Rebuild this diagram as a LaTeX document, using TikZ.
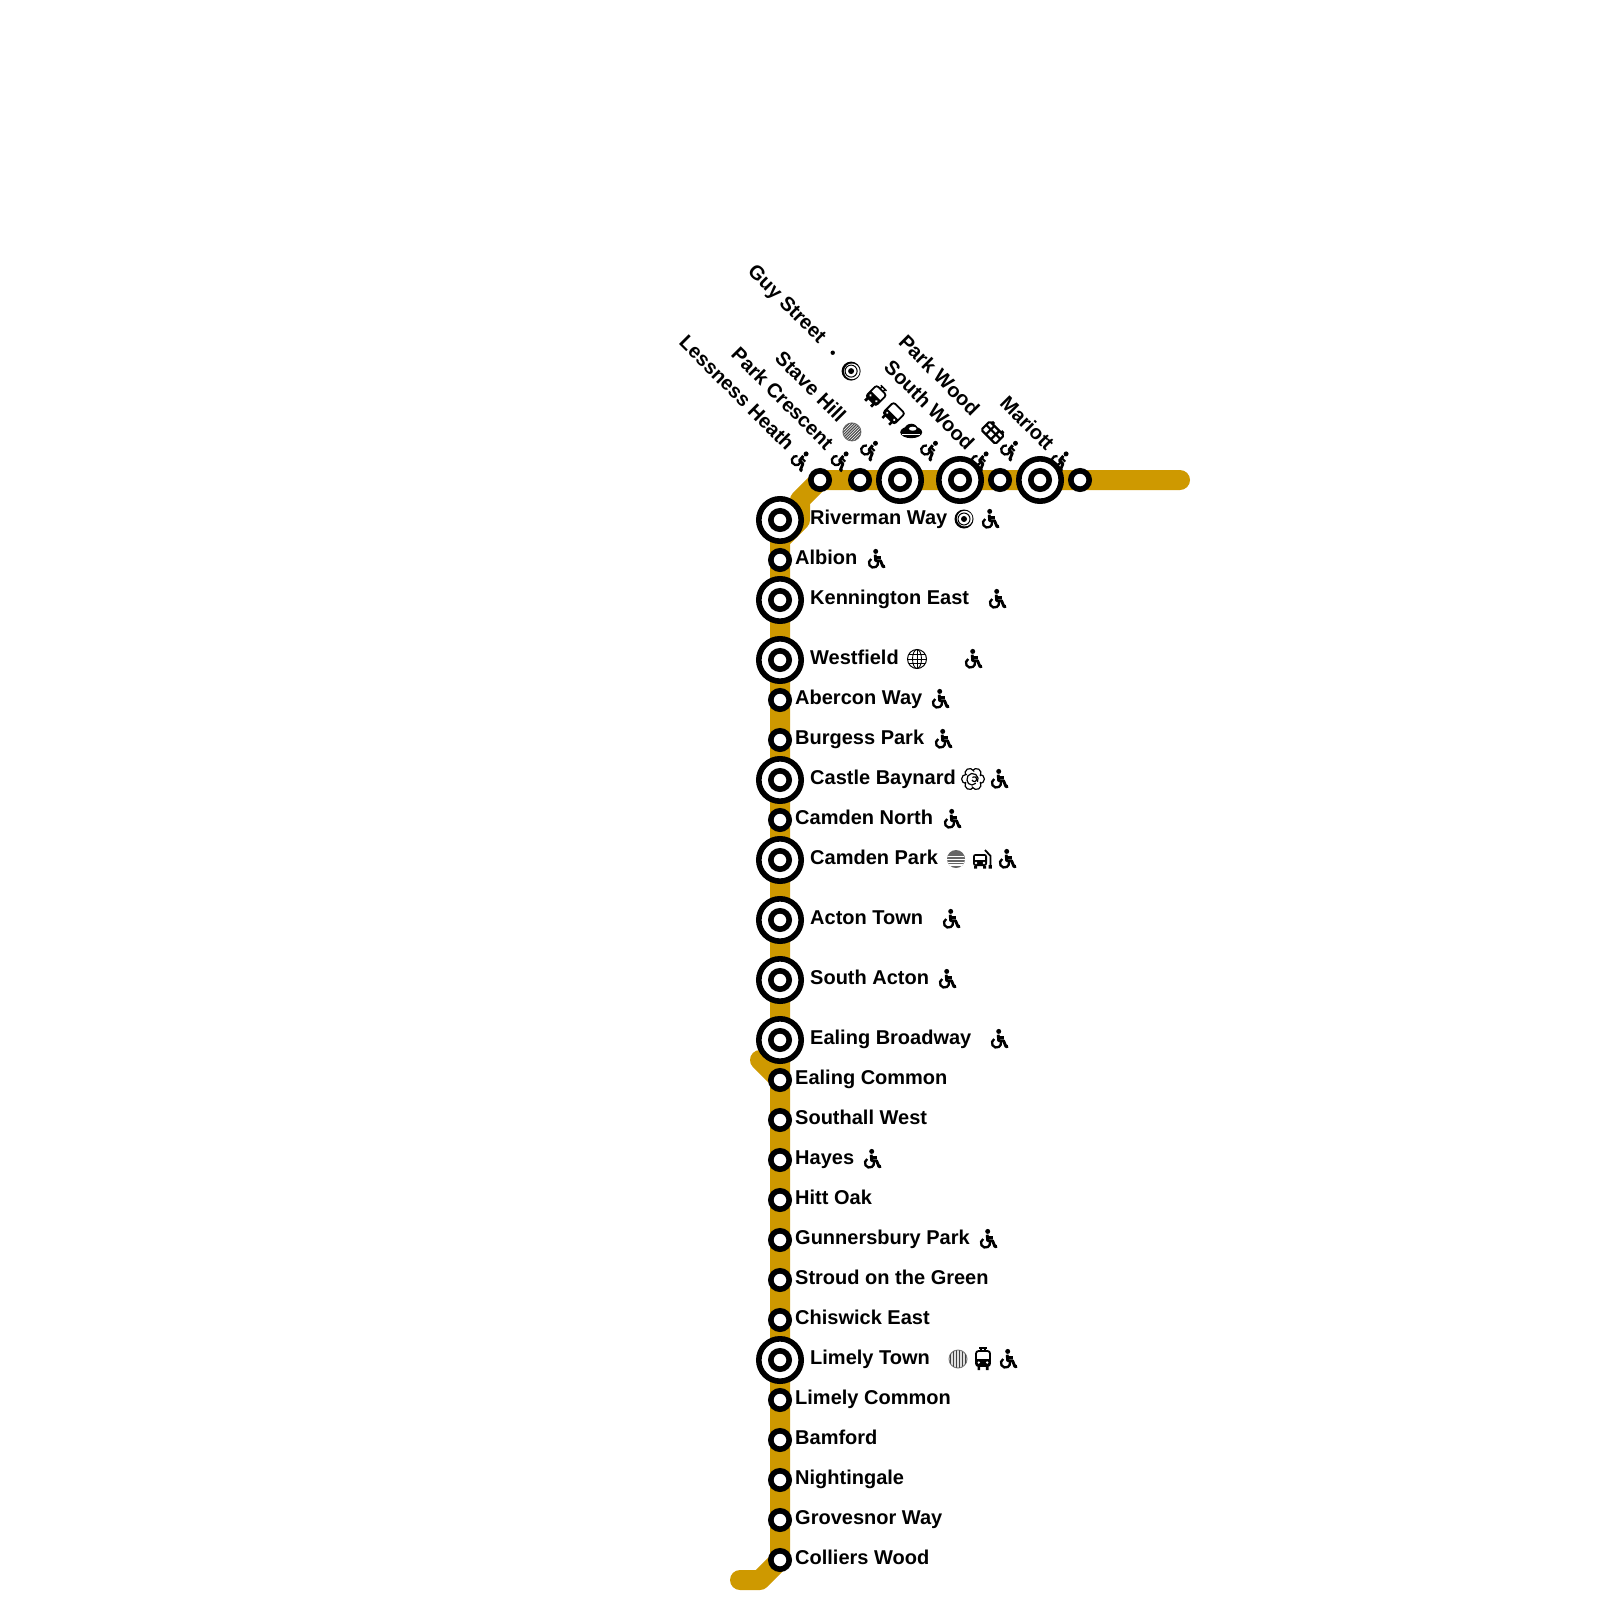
\documentclass[tikz,border=0pt]{standalone}
\usepackage{fontspec}
\setmainfont{Liberation Sans}
\usetikzlibrary{backgrounds}
\definecolor{linegold}{HTML}{CE9900}
\tikzset{
  smallstop/.style={circle, draw=black, fill=white, line width=5.6pt, inner sep=0pt, minimum size=18.4pt},
  bigstop/.style={circle, draw=black, fill=white, line width=5.6pt, inner sep=0pt, minimum size=42.4pt,
    path picture={\draw[line width=5.6pt] (path picture bounding box.center) circle (9.2pt);}},
  stoplabel/.style={font=\bfseries\fontsize{20}{24}\selectfont, inner sep=0pt, anchor=base west},
  toplabel/.style={font=\bfseries\fontsize{20}{24}\selectfont, inner sep=0pt, anchor=base east},
  metroline/.style={draw=linegold, line width=20pt, line cap=round, line join=round},
  wheelchair/.pic={
    \fill (-0.3,-8.6) circle (2.5pt);
    \draw[line width=2.9pt, line join=round] (-0.8,-5.3) -- (-0.3,0.7) -- (4.5,0.7) -- (7,6.7) -- (9,6.2);
    \draw[line width=2.2pt] (-0.8,-2.6) -- (4.5,-2.6);
    \draw[line width=2.3pt] (-4.8,-1) arc[start angle=120, end angle=375, radius=4.6pt];
  },
  target/.pic={
    \fill circle (9.5pt);
    \fill[white] (0.7,-0.4) circle (7.8pt);
    \draw[line width=1pt] circle (6pt);
    \fill circle (3pt);
  },
  globe/.pic={
    \draw[line width=1pt] circle (9.5pt);
    \draw[line width=0.9pt] (0,0) ellipse (4.5pt and 9.5pt);
    \draw[line width=0.9pt] (0,-9.5) -- (0,9.5) (-9.5,0) -- (9.5,0) (-8.3,-4.5) -- (8.3,-4.5) (-8.3,4.5) -- (8.3,4.5);
  },
  flower/.pic={
    \foreach \a in {0,60,...,300} {
      \draw[line width=1.2pt, fill=white, rotate=\a] (6.8,0) circle (4.6pt);
    }
    \fill[white] circle (7.5pt);
    \draw[line width=1.2pt] (-1,1) arc[start angle=200, end angle=500, radius=2.4pt];
    \draw[line width=1.2pt] (-6,1) arc[start angle=190, end angle=-30, radius=5.6pt];
    \draw[line width=1.2pt] (-6,1) arc[start angle=180, end angle=320, radius=5pt];
  },
  finehatch/.pic={
    \draw[line width=1pt, draw=gray, fill=white] circle (9pt);
    \begin{scope}
      \clip circle (9pt);
      \foreach \k in {-8,-6,...,8} {
        \draw[line width=1.1pt, draw=black!70] (\k,-9) -- (\k,9);
      }
    \end{scope}
  },
  vhatch/.pic={
    \draw[line width=1pt, draw=gray, fill=black!12] circle (9pt);
    \begin{scope}
      \clip circle (9pt);
      \foreach \k in {-7.5,-4.5,...,7.5} {
        \draw[line width=1pt, draw=black!75] (\k,-9) -- (\k,9);
      }
    \end{scope}
  },
  hhatch/.pic={
    \fill[black!60] circle (9pt);
    \begin{scope}
      \clip circle (9pt);
      \foreach \k in {-2.5,0.5,3.5,6} {
        \draw[line width=1.1pt, draw=white] (-9,\k) -- (9,\k);
      }
    \end{scope}
  },
  trambus/.pic={
    \draw[line width=1.4pt] (-4,-11) -- (4,-11) (-2,-11) -- (-2,-8) (2,-11) -- (2,-8);
    \draw[line width=1.8pt, fill=white, rounded corners=2.5pt] (-7,-8) rectangle (7,7);
    \fill (-7,0) rectangle (7,7);
    \fill (-5.5,7) rectangle (-2.8,11) (2.8,7) rectangle (5.5,11);
    \fill[white] (-4.2,3.5) circle (1.3pt) (4.2,3.5) circle (1.3pt);
  },
  railcar/.pic={
    \draw[line width=1.8pt, fill=white, rounded corners=2.5pt] (-8,-8) rectangle (8,7);
    \fill (-8,1) rectangle (8,7);
    \fill (-6,7) rectangle (-3.5,11) (3.5,7) rectangle (6,11);
    \fill[white] (-5,4) circle (1.3pt) (5,4) circle (1.3pt);
  },
  sidetram/.pic={
    \draw[line width=2.2pt, fill=white, rounded corners=1.5pt] (-10,-6) rectangle (10,6);
    \draw[line width=2.2pt] (-10,-1) -- (10,-1) (-3.5,-6) -- (-3.5,6) (3.5,-6) -- (3.5,6);
    \fill (-8,-8.5) rectangle (-5,-6) (5,-8.5) rectangle (8,-6);
  },
  saucer/.pic={
    \begin{scope}[rotate=45]
      \fill (0,1) ellipse (11pt and 6pt);
      \fill (0,-2) ellipse (6.5pt and 5.5pt);
      \fill[white] (1.5,-2.5) ellipse (3.8pt and 2pt);
      \draw[white, line width=0.8pt] (-9,3.5) -- (9,3.5);
    \end{scope}
  },
  trolleybus/.pic={
    \draw[line width=1.8pt] (8.5,8) -- (8.5,-3) -- (3,-9);
    \fill[rounded corners=2.5pt] (-9,-5) rectangle (5,7);
    \fill[white] (-7,-3) rectangle (3,0.5);
    \fill (-8,7) rectangle (-5,9.5) (1,7) rectangle (4,9.5) (6.5,6) rectangle (9.8,9.5);
    \fill[white] (-6,4) circle (1.3pt) (2,4) circle (1.3pt);
  }
}
\begin{document}
\begin{tikzpicture}[x=1pt, y=-1pt]
    \useasboundingbox (0,0) rectangle (1600,1600);
    % stops along the top
    \node[smallstop] (lessness) at (820,480) {};
    \node[smallstop] (parkcrescent) at (860,480) {};
    \node[bigstop] (stavehill) at (900,480) {};
    \node[bigstop] (guystreet) at (960,480) {};
    \node[smallstop] (southwood) at (1000,480) {};
    \node[bigstop] (parkwood) at (1040,480) {};
    \node[smallstop] (mariott) at (1080,480) {};
    % stops going down
    \node[bigstop] (riverman) at (780,520) {};
    \node[smallstop] (albion) at (780,560) {};
    \node[bigstop] (kennington) at (780,600) {};
    \node[bigstop] (westfield) at (780,660) {};
    \node[smallstop] (abercon) at (780,700) {};
    \node[smallstop] (burgess) at (780,740) {};
    \node[bigstop] (castle) at (780,780) {};
    \node[smallstop] (camdennorth) at (780,820) {};
    \node[bigstop] (camdenpark) at (780,860) {};
    \node[bigstop] (acton) at (780,920) {};
    \node[bigstop] (southacton) at (780,980) {};
    \node[bigstop] (ealingbroadway) at (780,1040) {};
    \node[smallstop] (ealingcommon) at (780,1080) {};
    \node[smallstop] (southall) at (780,1120) {};
    \node[smallstop] (hayes) at (780,1160) {};
    \node[smallstop] (hittoak) at (780,1200) {};
    \node[smallstop] (gunnersbury) at (780,1240) {};
    \node[smallstop] (stroud) at (780,1280) {};
    \node[smallstop] (chiswick) at (780,1320) {};
    \node[bigstop] (limelytown) at (780,1360) {};
    \node[smallstop] (limelycommon) at (780,1400) {};
    \node[smallstop] (bamford) at (780,1440) {};
    \node[smallstop] (nightingale) at (780,1480) {};
    \node[smallstop] (grovesnor) at (780,1520) {};
    \node[smallstop] (colliers) at (780,1560) {};
    % line ends and bends
    \coordinate (eastend) at (1180,480);
    \coordinate (bendA) at (800,500);
    \coordinate (bendB) at (800,520);
    \coordinate (bendC) at (780,540);
    \coordinate (stubend) at (760,1060);
    \coordinate (bendD) at (760,1580);
    \coordinate (southend) at (740,1580);
    \begin{scope}[on background layer]
        \draw[metroline] (eastend) -- (mariott.center) -- (lessness.center) -- (bendA) -- (bendB) -- (bendC) -- (colliers.center) -- (bendD) -- (southend);
        \draw[metroline] (stubend) -- (ealingcommon.center);
    \end{scope}
    % labels on the vertical part
    \node[stoplabel] (rivermanlabel) at (810,524) {Riverman Way};
    \pic at (964,519) {target};
    \pic at (990,520) {wheelchair};
    \node[stoplabel] (albionlabel) at (795,564) {Albion};
    \pic at (876,560) {wheelchair};
    \node[stoplabel] (kenningtonlabel) at (810,604) {Kennington East};
    \pic at (997,600) {wheelchair};
    \node[stoplabel] (westfieldlabel) at (810,664) {Westfield};
    \pic at (917,659) {globe};
    \pic at (973,660) {wheelchair};
    \node[stoplabel] (aberconlabel) at (795,704) {Abercon Way};
    \pic at (940,700) {wheelchair};
    \node[stoplabel] (burgesslabel) at (795,744) {Burgess Park};
    \pic at (943,740) {wheelchair};
    \node[stoplabel] (castlelabel) at (810,784) {Castle Baynard};
    \pic at (973,779) {flower};
    \pic at (999,780) {wheelchair};
    \node[stoplabel] (camdennorthlabel) at (795,824) {Camden North};
    \pic at (952,820) {wheelchair};
    \node[stoplabel] (camdenparklabel) at (810,864) {Camden Park};
    \pic at (956,859) {hhatch};
    \pic at (982,859) {trolleybus};
    \pic at (1007,860) {wheelchair};
    \node[stoplabel] (actonlabel) at (810,924) {Acton Town};
    \pic at (951,920) {wheelchair};
    \node[stoplabel] (southactonlabel) at (810,984) {South Acton};
    \pic at (947,980) {wheelchair};
    \node[stoplabel] (ealingbroadwaylabel) at (810,1044) {Ealing Broadway};
    \pic at (999,1040) {wheelchair};
    \node[stoplabel] (ealingcommonlabel) at (795,1084) {Ealing Common};
    \node[stoplabel] (southalllabel) at (795,1124) {Southall West};
    \node[stoplabel] (hayeslabel) at (795,1164) {Hayes};
    \pic at (872,1160) {wheelchair};
    \node[stoplabel] (hittoaklabel) at (795,1204) {Hitt Oak};
    \node[stoplabel] (gunnersburylabel) at (795,1244) {Gunnersbury Park};
    \pic at (988,1240) {wheelchair};
    \node[stoplabel] (stroudlabel) at (795,1284) {Stroud on the Green};
    \node[stoplabel] (chiswicklabel) at (795,1324) {Chiswick East};
    \node[stoplabel] (limelytownlabel) at (810,1364) {Limely Town};
    \pic at (958,1359) {vhatch};
    \pic at (983,1359) {trambus};
    \pic at (1008,1360) {wheelchair};
    \node[stoplabel] (limelycommonlabel) at (795,1404) {Limely Common};
    \node[stoplabel] (bamfordlabel) at (795,1444) {Bamford};
    \node[stoplabel] (nightingalelabel) at (795,1484) {Nightingale};
    \node[stoplabel] (grovesnorlabel) at (795,1524) {Grovesnor Way};
    \node[stoplabel] (collierslabel) at (795,1564) {Colliers Wood};
    % labels on the top part, measured back from each stop
    \begin{scope}[shift={(lessness.center)}, rotate=-45, transform shape]
        \node[toplabel] (lessnesslabel) at (-44,4) {Lessness Heath};
        \pic at (-28,0) {wheelchair};
    \end{scope}
    \begin{scope}[shift={(parkcrescent.center)}, rotate=-45, transform shape]
        \node[toplabel] (parkcrescentlabel) at (-45,4) {Park Crescent};
        \pic at (-28,0) {wheelchair};
    \end{scope}
    \begin{scope}[shift={(stavehill.center)}, rotate=-45, transform shape]
        \node[toplabel] (stavehilllabel) at (-84,4) {Stave Hill};
        \pic at (-68,0) {finehatch};
        \pic at (-43,0) {wheelchair};
    \end{scope}
    \begin{scope}[shift={(guystreet.center)}, rotate=-45, transform shape]
        \node[toplabel] (guystreetlabel) at (-196,4) {Guy Street};
        \fill (-180,0) circle (2.2pt);
        \pic at (-154,0) {target};
        \pic at (-119,0) {trambus};
        \pic at (-94,0) {railcar};
        \pic at (-69,0) {saucer};
        \pic at (-43,0) {wheelchair};
    \end{scope}
    \begin{scope}[shift={(southwood.center)}, rotate=-45, transform shape]
        \node[toplabel] (southwoodlabel) at (-44,4) {South Wood};
        \pic at (-28,0) {wheelchair};
    \end{scope}
    \begin{scope}[shift={(parkwood.center)}, rotate=-45, transform shape]
        \node[toplabel] (parkwoodlabel) at (-93,4) {Park Wood};
        \pic at (-67,0) {sidetram};
        \pic at (-43,0) {wheelchair};
    \end{scope}
    \begin{scope}[shift={(mariott.center)}, rotate=-45, transform shape]
        \node[toplabel] (mariottlabel) at (-44,4) {Mariott};
        \pic at (-28,0) {wheelchair};
    \end{scope}
\end{tikzpicture}
\end{document}
